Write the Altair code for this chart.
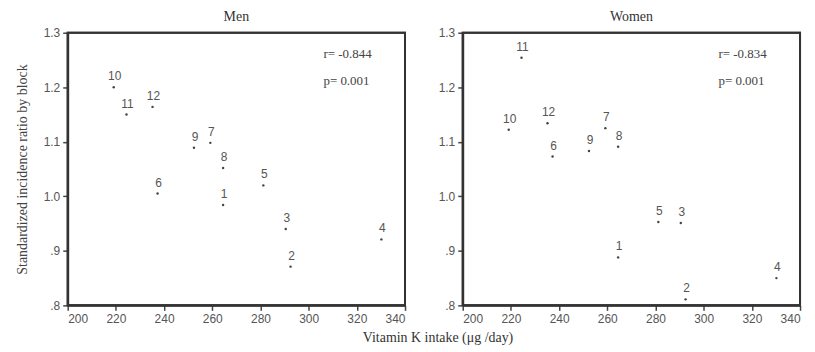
import altair as alt
import pandas as pd

blocks = [1, 2, 3, 4, 5, 6, 7, 8, 9, 10, 11, 12]
vitk_intake = [264.5, 292.5, 290.5, 330.2, 281.2, 237.3, 259.2, 264.5, 252.4, 219.1, 224.4, 235.2]
men_sir = [0.984, 0.871, 0.940, 0.921, 1.020, 1.005, 1.098, 1.052, 1.089, 1.200, 1.150, 1.164]
women_sir = [0.888, 0.811, 0.951, 0.850, 0.953, 1.073, 1.125, 1.091, 1.083, 1.122, 1.254, 1.134]

x_ticks = [200, 220, 240, 260, 280, 300, 320, 340]
y_ticks = [0.8, 0.9, 1.0, 1.1, 1.2, 1.3]

panels = [
    ("Men", men_sir, "r= -0.844", "p= 0.001"),
    ("Women", women_sir, "r= -0.834", "p= 0.001"),
]

SERIF = "Liberation Serif"
SANS = "Liberation Sans"
W, H = 339, 274


def panel(title, sir, r_txt, p_txt, show_ytitle):
    df = pd.DataFrame({"block": blocks, "vk": vitk_intake, "sir": sir})
    base = alt.Chart(df)
    x = alt.X("vk:Q", scale=alt.Scale(domain=[200, 340], nice=False, zero=False),
              axis=alt.Axis(values=x_ticks, title=None, grid=False,
                            domain=True, domainColor="#333", domainWidth=2,
                            tickSize=5, labelPadding=3, tickColor="#444", tickWidth=1.5,
                            labelFont=SANS, labelFontSize=12, labelColor="#555"))
    y = alt.Y("sir:Q", scale=alt.Scale(domain=[0.8, 1.3], nice=False, zero=False),
              axis=alt.Axis(values=y_ticks,
                            title="Standardized incidence ratio by block" if show_ytitle else None,
                            titleFont=SERIF, titleFontSize=14, titleFontWeight="normal",
                            titleColor="#444", titlePadding=14,
                            grid=False, domain=True, domainColor="#333", domainWidth=2,
                            tickSize=5, labelPadding=3, tickColor="#444", tickWidth=1.5,
                            labelFont=SANS, labelFontSize=12, labelColor="#555",
                            labelExpr="datum.value < 0.95 ? '.' + format(datum.value*10, '.0f') : format(datum.value, '.1f')"))
    pts = base.mark_circle(size=6, color="#444", opacity=1).encode(x=x, y=y)
    labs = base.mark_text(font=SANS, fontSize=12, color="#555", dy=-11, dx=1).encode(
        x=alt.X("vk:Q"), y=alt.Y("sir:Q"), text="block:N")
    r_ann = alt.Chart(pd.DataFrame({"t": [r_txt]})).mark_text(
        font=SERIF, fontSize=13, color="#444", align="left", baseline="middle").encode(
        x=alt.value(257), y=alt.value(21), text="t:N")
    p_ann = alt.Chart(pd.DataFrame({"t": [p_txt]})).mark_text(
        font=SERIF, fontSize=13, color="#444", align="left", baseline="middle").encode(
        x=alt.value(257), y=alt.value(49), text="t:N")
    frame = alt.Chart(pd.DataFrame({"t": [0]})).mark_rect(
        filled=False, fill="transparent", stroke="#333", strokeWidth=2, opacity=1).encode(
        x=alt.value(0), x2=alt.value(W), y=alt.value(0), y2=alt.value(H))
    return alt.layer(pts, labs, r_ann, p_ann, frame).properties(
        width=W, height=H,
        title=alt.TitleParams(title, font=SERIF, fontSize=14, fontWeight="normal",
                              color="#333", offset=3))


chart = alt.hconcat(
    panel(*panels[0], show_ytitle=True),
    panel(*panels[1], show_ytitle=False),
    spacing=30,
).properties(
    title=alt.TitleParams("Vitamin K intake (μg /day)", orient="bottom", anchor="middle",
                          font=SERIF, fontSize=14, fontWeight="normal", color="#333",
                          offset=6, dx=30),
    padding={"left": 6, "top": 0, "right": 5, "bottom": 2},
    background="white",
).configure_view(stroke="#333", strokeWidth=2, strokeOpacity=1)

chart.save("out.html", embed_options={"renderer": "svg", "actions": False})
